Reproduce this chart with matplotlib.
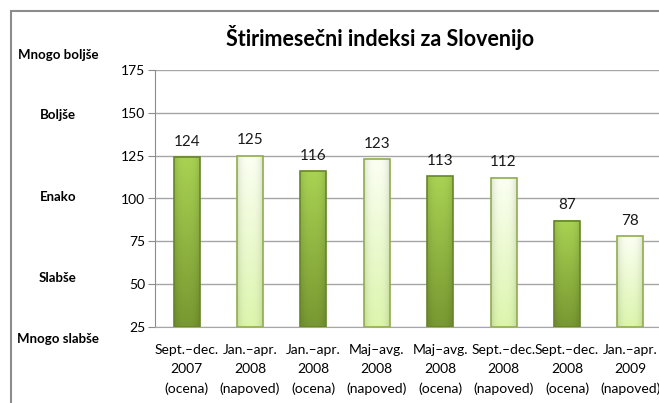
import numpy as np
import matplotlib
matplotlib.use('Agg')
import matplotlib.pyplot as plt
import matplotlib.transforms as mtransforms
from matplotlib.colors import to_rgb
from matplotlib.patches import Rectangle

# data
categories = ['Sept.–dec.\n2007\n(ocena)', 'Jan.–apr.\n2008\n(napoved)',
              'Jan.–apr.\n2008\n(ocena)', 'Maj–avg.\n2008\n(napoved)',
              'Maj–avg.\n2008\n(ocena)', 'Sept.–dec.\n2008\n(napoved)',
              'Sept.–dec.\n2008\n(ocena)', 'Jan.–apr.\n2009\n(napoved)']
values = [124, 125, 116, 123, 113, 112, 87, 78]
kinds = ['ocena', 'napoved', 'ocena', 'napoved', 'ocena', 'napoved', 'ocena', 'napoved']
yticks = [25, 50, 75, 100, 125, 150, 175]
side_labels = ['Mnogo boljše', 'Boljše', 'Enako', 'Slabše', 'Mnogo slabše']
side_pos = [184, 148.5, 101, 53.5, 18]
title = 'Štirimesečni indeksi za Slovenijo'

plt.rcParams['font.family'] = ['Lato', 'DejaVu Sans']

# gradient colours per kind: (bottom, top, edge)
styles = {
  'ocena': ('#789831', '#a9d253', '#66862a'),
  'napoved': ('#dcf5ad', '#fbfff2', '#8fae4c'),
}

def gradient(kind, n=64):
  """
  Build an RGB image for one bar: vertical fade plus darker sides
  """
  bot, top, _ = styles[kind]
  bot = np.array(to_rgb(bot))
  top = np.array(to_rgb(top))
  t = np.linspace(1, 0, n)[:, None, None]   # row 0 = top
  u = np.linspace(-1, 1, n)[None, :, None]
  base = bot + (top - bot) * t
  shade = 1 - 0.12 * np.abs(u) ** 3
  return np.clip(base * shade, 0, 1)

fig = plt.figure(figsize=(6.59, 4.03), dpi=100)
ax = fig.add_axes([155 / 659, 76 / 403, 507 / 659, 257 / 403])

x = np.arange(len(values))
width = 0.41
bars = ax.bar(x, [v - 25 for v in values], bottom=25, width=width,
              color='none', zorder=3)
for b, kind, v in zip(bars, kinds, values):
  x0, y0 = b.get_x(), b.get_y()
  w, h = b.get_width(), b.get_height()
  ax.imshow(gradient(kind), extent=(x0, x0 + w, y0, y0 + h), aspect='auto',
            zorder=3, interpolation='bilinear')
  b.set_edgecolor(styles[kind][2])
  b.set_linewidth(1.2)
  b.set_zorder(4)
  ax.text(x0 + w / 2, v + 5, str(v), ha='center', va='bottom',
          fontsize=11, color='#1a1a1a')

ax.set_xlim(-0.5, len(values) - 0.5)
ax.set_ylim(25, 175)
ax.set_yticks(yticks)
ax.set_xticks(x)
ax.set_xticklabels(categories, fontsize=10, linespacing=1.7)
ax.tick_params(axis='x', length=0, pad=12)
ax.tick_params(axis='y', length=5, color='#8c8c8c', labelsize=10, pad=2)
ax.grid(axis='y', color='#a6a6a6', linewidth=1.0, zorder=0)
ax.set_axisbelow(True)
for s in ['top', 'right']:
  ax.spines[s].set_visible(False)
ax.spines['left'].set_color('#8c8c8c')
ax.spines['bottom'].set_color('#a6a6a6')

# left verbal scale
trans = mtransforms.blended_transform_factory(fig.transFigure, ax.transData)
for lab, pos in zip(side_labels, side_pos):
  ax.text(58 / 659, pos, lab, transform=trans, ha='center', va='center',
          fontsize=9.5, fontweight='bold', clip_on=False)

fig.text(380 / 659, 1 - 37 / 403, title, ha='center', va='center',
         fontsize=15.5, fontweight='bold')

# chart frame
fig.patches.append(Rectangle((11 / 659, -0.1), 1.2, 1 - 11 / 403 + 0.1,
                             transform=fig.transFigure, fill=False,
                             edgecolor='#8c8c8c', linewidth=1.5))

plt.savefig('out.png', dpi=100)
